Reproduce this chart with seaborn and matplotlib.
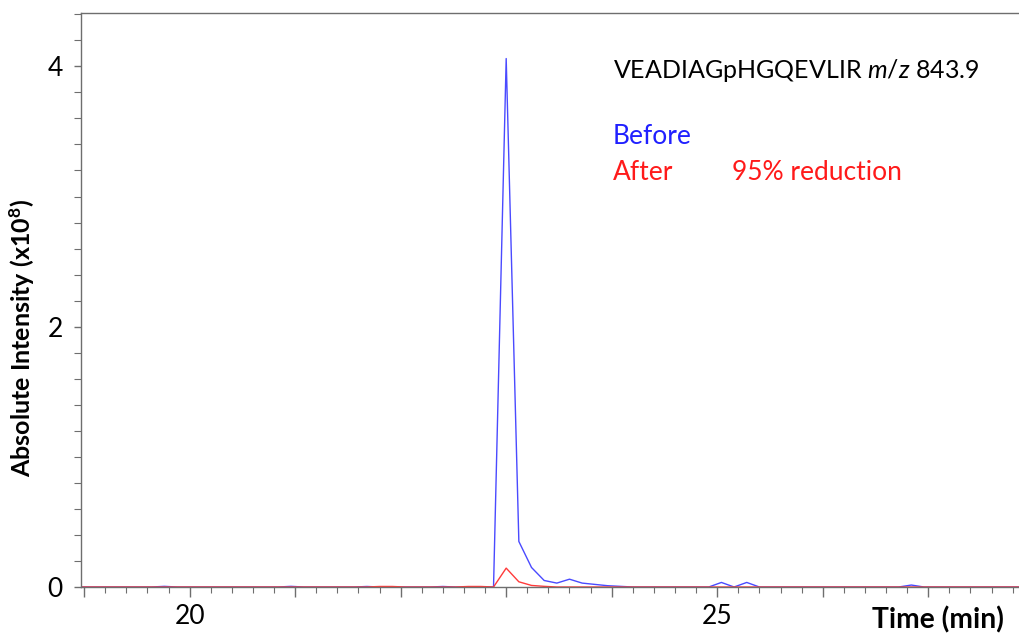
import numpy as np
import pandas as pd
import matplotlib
matplotlib.use("Agg")
import matplotlib.pyplot as plt
from matplotlib.ticker import MultipleLocator, FuncFormatter
import seaborn as sns

# ---- data ----
t_start, t_step, n_pts = 18.92, 0.12, 76
before = [0, 0, 0, 0, 0, 0, 0, 0.005, 0, 0,
          0, 0, 0, 0, 0, 0, 0, 0.005, 0, 0,
          0, 0, 0, 0.004, 0, 0, 0, 0, 0, 0.004,
          0, 0, 0, 0.0, 4.06, 0.35, 0.15, 0.05, 0.03, 0.06,
          0.03, 0.02, 0.01, 0.005, 0, 0, 0, 0, 0, 0,
          0, 0.035, 0, 0.035, 0, 0, 0, 0, 0, 0,
          0, 0, 0, 0, 0, 0, 0.015, 0, 0, 0,
          0, 0, 0, 0, 0, 0]
after = [0, 0, 0, 0, 0, 0, 0, 0, 0, 0,
         0, 0, 0, 0, 0, 0, 0, 0, 0, 0,
         0, 0, 0, 0, 0.004, 0.004, 0, 0, 0, 0,
         0, 0.004, 0.004, 0.0, 0.145, 0.04, 0.012, 0.005, 0, 0,
         0, 0, 0, 0, 0, 0, 0, 0, 0, 0,
         0, 0, 0, 0, 0, 0, 0, 0, 0, 0,
         0, 0, 0, 0, 0, 0, 0, 0, 0, 0,
         0, 0, 0, 0, 0, 0]
time = np.round(t_start + t_step * np.arange(n_pts), 3)
samples = ["Before", "After"]
x_labels = {20: "20", 25: "25"}
y_labels = [0, 2, 4]

df = pd.DataFrame({
    "time": np.concatenate([time, time]),
    "intensity": np.concatenate([before, after]),
    "sample": ["Before"] * n_pts + ["After"] * n_pts,
})

sns.set_style("white")
FONT = "Lato"
plt.rcParams["font.family"] = [FONT, "DejaVu Sans"]
plt.rcParams["mathtext.fontset"] = "custom"
plt.rcParams["mathtext.rm"] = FONT
plt.rcParams["mathtext.it"] = FONT + ":italic"
plt.rcParams["mathtext.bf"] = FONT + ":bold"
plt.rcParams["text.color"] = "black"
plt.rcParams["xtick.labelcolor"] = "black"
plt.rcParams["ytick.labelcolor"] = "black"

fig = plt.figure(figsize=(10.2, 6.35), dpi=100)
ax = fig.add_axes([81 / 1020, 48 / 635, 1 - 81 / 1020, 574 / 635])

sns.lineplot(data=df, x="time", y="intensity", hue="sample", hue_order=samples,
             palette={"Before": "#4a4aff", "After": "#ff3a3a"},
             linewidth=1.0, legend=False, ax=ax)

ax.set_xlim(18.97, 27.87)
ax.set_ylim(0, 4.41)
ax.set_xlabel("")
ax.set_ylabel("")

ax.xaxis.set_major_locator(MultipleLocator(1))
ax.xaxis.set_minor_locator(MultipleLocator(0.2))
ax.xaxis.set_major_formatter(FuncFormatter(lambda v, p: x_labels.get(int(round(v)), "")))
ax.yaxis.set_major_locator(MultipleLocator(2))
ax.yaxis.set_minor_locator(MultipleLocator(0.2))
ax.yaxis.set_major_formatter(FuncFormatter(lambda v, p: f"{v:g}" if v in y_labels else ""))

spine_c = "#6e6e6e"
ax.tick_params(axis="x", which="major", direction="out", length=7, width=1, color=spine_c,
               labelsize=19, pad=5, bottom=True, labelcolor="black")
ax.tick_params(axis="x", which="minor", direction="out", length=4, width=0.8, color=spine_c, bottom=True)
ax.tick_params(axis="y", which="major", direction="out", length=5, width=1, color=spine_c,
               labelsize=19, pad=8, left=True, labelcolor="black")
ax.tick_params(axis="y", which="minor", direction="out", length=5, width=0.8, color=spine_c, left=True)
for s in ["left", "bottom", "top"]:
    ax.spines[s].set_color(spine_c)
    ax.spines[s].set_linewidth(1.0)
ax.spines["right"].set_visible(False)

fig.text(872 / 1020, 1 - 620 / 635, "Time (min)", fontsize=20.3, fontweight="bold",
         ha="left", va="center", color="black")
fig.text(22 / 1020, 1 - 338 / 635, r"Absolute Intensity (x10$^{\mathbf{8}}$)", fontsize=18,
         fontweight="bold", rotation=90, ha="center", va="center", color="black")

fig.text(613 / 1020, 1 - 70 / 635, r"VEADIAGpHGQEVLIR $\it{m/z}$ 843.9", fontsize=18,
         color="black", ha="left", va="center")
fig.text(613 / 1020, 1 - 137 / 635, "Before", fontsize=19, color="#2020ff", ha="left", va="center")
fig.text(613 / 1020, 1 - 173 / 635, "After", fontsize=19, color="#ff1a1a", ha="left", va="center")
fig.text(732 / 1020, 1 - 173 / 635, "95% reduction", fontsize=19, color="#ff1a1a", ha="left", va="center")

fig.savefig("out.png", dpi=100)
